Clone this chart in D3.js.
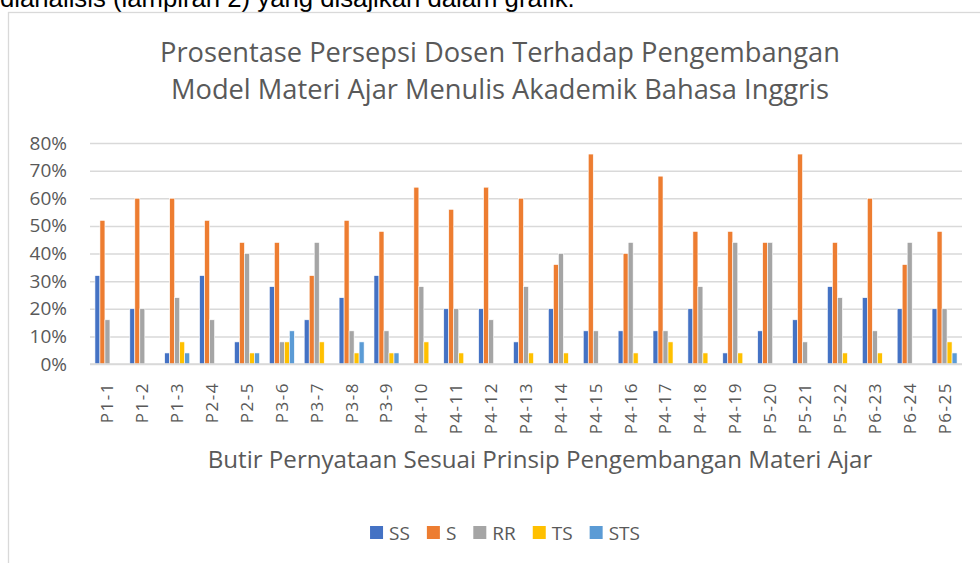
<!DOCTYPE html>
<html>
<head>
<meta charset="utf-8">
<script src="https://cdn.jsdelivr.net/npm/d3@7"></script>
<style>
  html, body { margin: 0; padding: 0; background: #fff; }
  svg { display: block; }
  text { font-family: "Open Sans", "Noto Sans", sans-serif; }
</style>
</head>
<body>
<svg id="chart" width="980" height="563"></svg>
<script>
const categories = ["P1-1","P1-2","P1-3","P2-4","P2-5","P3-6","P3-7","P3-8","P3-9","P4-10","P4-11","P4-12","P4-13","P4-14","P4-15","P4-16","P4-17","P4-18","P4-19","P5-20","P5-21","P5-22","P6-23","P6-24","P6-25"];
const seriesNames = ["SS","S","RR","TS","STS"];
const seriesColors = ["#4472C4","#ED7D31","#A5A5A5","#FFC000","#5B9BD5"];
const SS  = [32,20,4,32,8,28,16,24,32,0,20,20,8,20,12,12,12,20,4,12,16,28,24,20,20];
const S   = [52,60,60,52,44,44,32,52,48,64,56,64,60,36,76,40,68,48,48,44,76,44,60,36,48];
const RR  = [16,20,24,16,40,8,44,12,12,28,20,16,28,40,12,44,12,28,44,44,8,24,12,44,20];
const TS  = [0,0,8,0,4,8,8,4,4,8,4,0,4,4,0,4,8,4,4,0,0,4,4,0,8];
const STS = [0,0,4,0,4,12,0,8,4,0,0,0,0,0,0,0,0,0,0,0,0,0,0,0,4];
const yTicks = [0,0.1,0.2,0.3,0.4,0.5,0.6,0.7,0.8];
const titleLines = ["Prosentase Persepsi Dosen Terhadap Pengembangan","Model Materi Ajar Menulis Akademik Bahasa Inggris"];
const xAxisTitle = "Butir Pernyataan Sesuai Prinsip Pengembangan Materi Ajar";
const pageText = "dianalisis (lampiran 2) yang disajikan dalam grafik.";

const seriesValues = [SS,S,RR,TS,STS];
const data = categories.map((c,i) => ({cat:c, vals: seriesNames.map((n,k)=>({key:n, v: seriesValues[k][i]/100}))}));

const svg = d3.select("#chart");

// page text above chart (cut off at top, as in the reference)
const pt = svg.append("text").attr("x",0).attr("y",7)
  .style("font-family","'Liberation Sans', Arial, sans-serif")
  .attr("fill","#000").text(pageText);

// chart border
svg.append("rect").attr("x",8.5).attr("y",12.5).attr("width",1200).attr("height",700)
  .attr("fill","#fff").attr("stroke","#D9D9D9").attr("stroke-width",1.3);

const x0 = d3.scaleBand().domain(categories).range([90,962]).paddingInner(0.283).paddingOuter(0.1415);
const x1 = d3.scaleBand().domain(seriesNames).range([0,x0.bandwidth()]);
const y = d3.scaleLinear().domain([0,0.8]).range([364,143]);
const color = d3.scaleOrdinal().domain(seriesNames).range(seriesColors);

// gridlines
const grid = svg.append("g").attr("transform","translate(90,0)")
  .call(d3.axisLeft(y).tickValues(yTicks).tickSize(-872).tickFormat(""));
grid.select(".domain").remove();
grid.selectAll("line").attr("stroke","#D9D9D9").attr("stroke-width",1.5);

// y labels
const yAxis = svg.append("g").attr("transform","translate(67,0)")
  .call(d3.axisLeft(y).tickValues(yTicks).tickSize(0).tickPadding(0).tickFormat(d3.format(".0%")));
yAxis.select(".domain").remove();
yAxis.selectAll("text").attr("font-size",19).attr("fill","#595959")
  .style("font-family","'Open Sans', sans-serif");

// bars
const groups = svg.append("g").selectAll("g").data(data).join("g")
  .attr("transform", d => `translate(${x0(d.cat)},0)`);
groups.selectAll("rect").data(d => d.vals.filter(v=>v.v>0)).join("rect")
  .attr("x", d => x1(d.key))
  .attr("width", x1.bandwidth())
  .attr("y", d => y(d.v))
  .attr("height", d => y(0) - y(d.v))
  .attr("fill", d => color(d.key))
  .attr("stroke","#fff").attr("stroke-width",0.6);

// baseline
svg.append("line").attr("x1",90).attr("x2",962).attr("y1",y(0)).attr("y2",y(0))
  .attr("stroke","#D9D9D9").attr("stroke-width",1.5);

// x labels
const xAxis = svg.append("g").attr("transform","translate(0,382)")
  .call(d3.axisBottom(x0).tickSize(0).tickPadding(0));
xAxis.select(".domain").remove();
xAxis.selectAll("text")
  .attr("font-size",17).attr("fill","#595959")
  .attr("letter-spacing","1.5px")
  .attr("text-anchor","end")
  .attr("y",0).attr("dy","0.35em")
  .attr("transform","rotate(-90)");

// fit helper
function fitText(sel, targetWidth, baseSize) {
  sel.attr("font-size", baseSize);
  const w = sel.node().getComputedTextLength();
  sel.attr("font-size", baseSize * targetWidth / w);
}

fitText(pt, 575, 24);

// title
const t1 = svg.append("text").attr("x",500).attr("y",62).attr("text-anchor","middle")
  .attr("fill","#595959").text(titleLines[0]);
fitText(t1, 680, 26);
const t2 = svg.append("text").attr("x",500).attr("y",99).attr("text-anchor","middle")
  .attr("fill","#595959").text(titleLines[1]);
t2.attr("font-size", t1.attr("font-size"));

// axis title
const at = svg.append("text").attr("x",540).attr("y",468).attr("text-anchor","middle")
  .attr("fill","#595959").text(xAxisTitle);
fitText(at, 665, 20);

// legend
const legend = svg.append("g");
let lx = 0;
seriesNames.forEach((n,i) => {
  const g = legend.append("g").attr("transform",`translate(${lx},0)`);
  g.append("rect").attr("x",0).attr("y",-7).attr("width",13).attr("height",13).attr("fill",seriesColors[i]);
  const t = g.append("text").attr("x",19).attr("y",0).attr("dy","0.35em")
    .attr("font-size",19).attr("fill","#595959").text(n);
  lx += 19 + t.node().getComputedTextLength() + 17;
});
const totalW = lx - 17;
legend.attr("transform",`translate(${505 - totalW/2},533)`);
</script>
</body>
</html>
